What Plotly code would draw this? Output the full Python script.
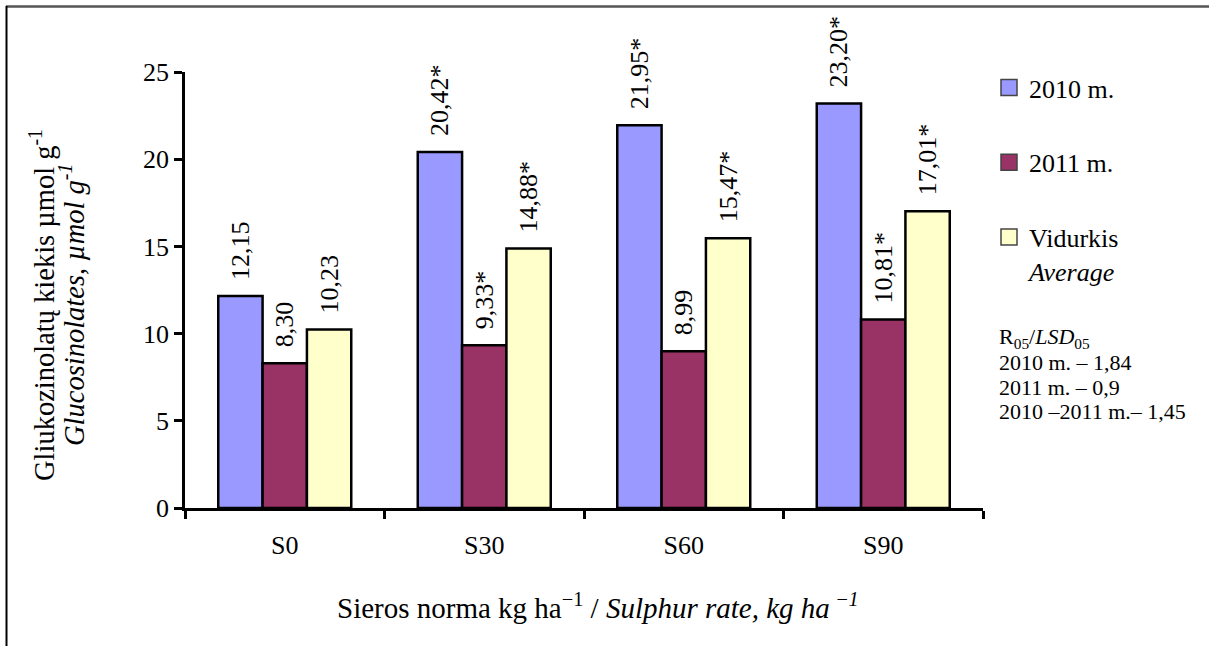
import plotly.graph_objects as go

categories = ["S0", "S30", "S60", "S90"]
series_names = ["2010 m.", "2011 m.", "Vidurkis<br><i>Average</i>"]
values_2010 = [12.15, 20.42, 21.95, 23.20]
values_2011 = [8.30, 9.33, 8.99, 10.81]
values_avg = [10.23, 14.88, 15.47, 17.01]
signif_2010 = [False, True, True, True]
signif_2011 = [False, True, False, True]
signif_avg = [False, True, True, True]
y_ticks = [0, 5, 10, 15, 20, 25]
y_title_lines = ["Gliukozinolatų kiekis µmol g<sup>-1</sup>",
                 "<i>Glucosinolates, µmol g<sup>-1</sup></i>"]
x_title = "Sieros norma kg ha<sup>\u22121</sup> / <i>Sulphur rate, kg ha<sup> \u22121</sup></i>"
lsd_lines = ["R<sub>05</sub>/<i>LSD</i><sub>05</sub>", "2010 m. \u2013 1,84",
             "2011 m. \u2013 0,9", "2010 \u20132011 m.\u2013 1,45"]

colors = ["#9999FF", "#993366", "#FFFFCC"]
FONT = "Liberation Serif"

# plot area pixel geometry
L, R, T, B = 185, 983, 72, 508
W, H = 1209, 646


def px_x(p):
    return (p - L) / (R - L)


def px_y(p):
    return (B - p) / (B - T)


def label(v, s):
    return "\u00a0\u00a0" + f"{v:.2f}".replace(".", ",") + ("*" if s else "")


fig = go.Figure()
series = [(values_2010, signif_2010), (values_2011, signif_2011), (values_avg, signif_avg)]
for i, ((vals, sig), name, col) in enumerate(zip(series, series_names, colors)):
    fig.add_trace(go.Bar(
        x=categories, y=vals, name=name, showlegend=False,
        marker=dict(color=col, line=dict(color="black", width=2.5)),
        text=[label(v, s) for v, s in zip(vals, sig)],
        textposition="outside", textangle=-90, constraintext="none",
        cliponaxis=False,
        textfont=dict(family=FONT, size=26, color="black"),
    ))
    # legend proxy
    fig.add_trace(go.Scatter(
        x=[None], y=[None], mode="markers", name=name, legendgroup=f"g{i}",
        marker=dict(symbol="square", size=16, color=col, line=dict(color="#444", width=1.5)),
        showlegend=True,
    ))

annotations = []
for k, line in enumerate(lsd_lines):
    annotations.append(dict(
        xref="paper", yref="paper", x=px_x(997), y=px_y(338 + 24.5 * k),
        xanchor="left", yanchor="middle", align="left", showarrow=False,
        font=dict(family=FONT, size=22, color="black"), text=line))
for k, line in enumerate(y_title_lines):
    annotations.append(dict(
        xref="paper", yref="paper", x=px_x(42 + 30 * k), y=px_y(305),
        xanchor="center", yanchor="middle", textangle=-90, showarrow=False,
        font=dict(family=FONT, size=28.5, color="black"), text=line))
annotations.append(dict(
    xref="paper", yref="paper", x=px_x(598), y=px_y(606),
    xanchor="center", yanchor="middle", showarrow=False,
    font=dict(family=FONT, size=29, color="black"), text=x_title))

fig.update_layout(
    width=W, height=H,
    margin=dict(l=L, r=W - R, t=T, b=H - B, autoexpand=False),
    paper_bgcolor="white", plot_bgcolor="white",
    barmode="group", bargap=1.5 / 4.5, bargroupgap=0,
    font=dict(family=FONT, size=26, color="black"),
    legend=dict(
        x=px_x(989), y=px_y(64), xanchor="left", yanchor="top",
        font=dict(family=FONT, size=26, color="black"),
        tracegroupgap=38, itemwidth=30, valign="top",
        bgcolor="rgba(0,0,0,0)",
    ),
    xaxis=dict(
        type="category", showline=True, linecolor="black", linewidth=2.5,
        ticks="outside", tickson="boundaries", ticklen=8, tickwidth=2.5, tickcolor="black",
        tickfont=dict(family=FONT, size=26), showgrid=False, ticklabelstandoff=12,
    ),
    yaxis=dict(
        range=[0, 25], tickvals=y_ticks, showline=True, linecolor="black", linewidth=2.5,
        ticks="outside", ticklen=8, tickwidth=2.5, tickcolor="black",
        tickfont=dict(family=FONT, size=26), showgrid=False, zeroline=False,
    ),
    shapes=[
        dict(type="line", xref="paper", yref="paper", x0=px_x(6), x1=px_x(W + 5),
             y0=px_y(6.5), y1=px_y(6.5), line=dict(color="#555555", width=2.5)),
        dict(type="line", xref="paper", yref="paper", x0=px_x(6.5), x1=px_x(6.5),
             y0=px_y(6), y1=px_y(H + 5), line=dict(color="black", width=2)),
    ],
    annotations=annotations,
)

fig.write_html("out.html")
